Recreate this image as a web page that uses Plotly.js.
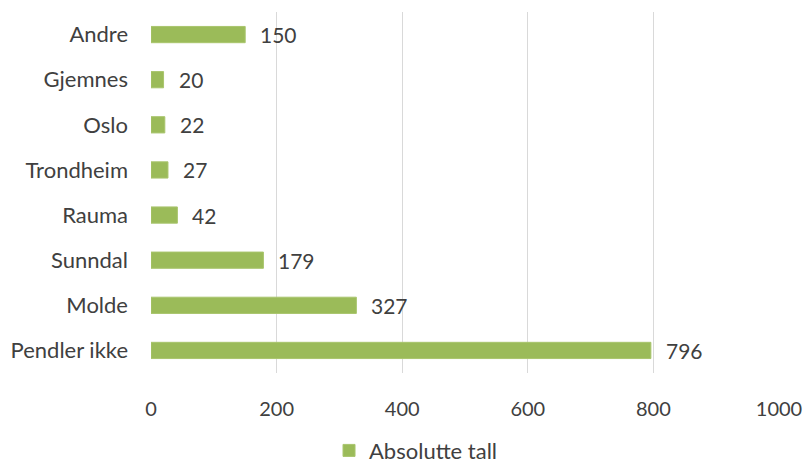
<!DOCTYPE html>
<html><head><meta charset="utf-8">
<script src="https://cdn.plot.ly/plotly-3.0.1.min.js"></script>
<style>body{margin:0;background:#fff}#c{width:806px;height:465px}</style>
</head><body><div id="c"></div>
<script>
const categories = ["Pendler ikke","Molde","Sunndal","Rauma","Trondheim","Oslo","Gjemnes","Andre"];
const values = [796,327,179,42,27,22,20,150];
const seriesName = "Absolutte tall";
const tickVals = [0,200,400,600,800,1000];

const green = "#9BBB59";
const txt = "#404040";
const fnt = "Lato, Open Sans, sans-serif";

const annotations = categories.map((c,i)=>({
  x: values[i], y: c, xref:"x", yref:"y", text: String(values[i]),
  showarrow:false, xanchor:"left", xshift:13, font:{family:fnt,size:21,color:txt}
}));

Plotly.newPlot("c",[{
  type:"bar", orientation:"h", x:values, y:categories, name:seriesName,
  marker:{color:green, line:{color:"#a9c56d", width:1}}, width:0.36,
  showlegend:true, hoverinfo:"none"
}],{
  width:806, height:465,
  margin:{l:150.5, r:26.5, t:11.5, b:92.3, autoexpand:false},
  paper_bgcolor:"#fff", plot_bgcolor:"#fff",
  font:{family:fnt, size:21, color:txt},
  xaxis:{range:[0,1000], tickvals:tickVals, showgrid:true, gridcolor:"#d9d9d9", gridwidth:1.3,
         zeroline:false, showline:false, ticks:"", ticklabelstandoff:22, fixedrange:true,
         tickfont:{family:fnt,size:20,color:txt}},
  yaxis:{categoryorder:"array", categoryarray:categories, showgrid:false, zeroline:false,
         showline:false, ticks:"", ticklabelstandoff:22, tickfont:{family:fnt,size:22,color:txt}},
  legend:{orientation:"h", x:0.422, xanchor:"center", y:-0.215, yanchor:"middle",
          font:{family:fnt,size:22,color:txt}, itemwidth:30},
  annotations:annotations, bargap:0.64
},{displayModeBar:false, staticPlot:true});
</script></body></html>
